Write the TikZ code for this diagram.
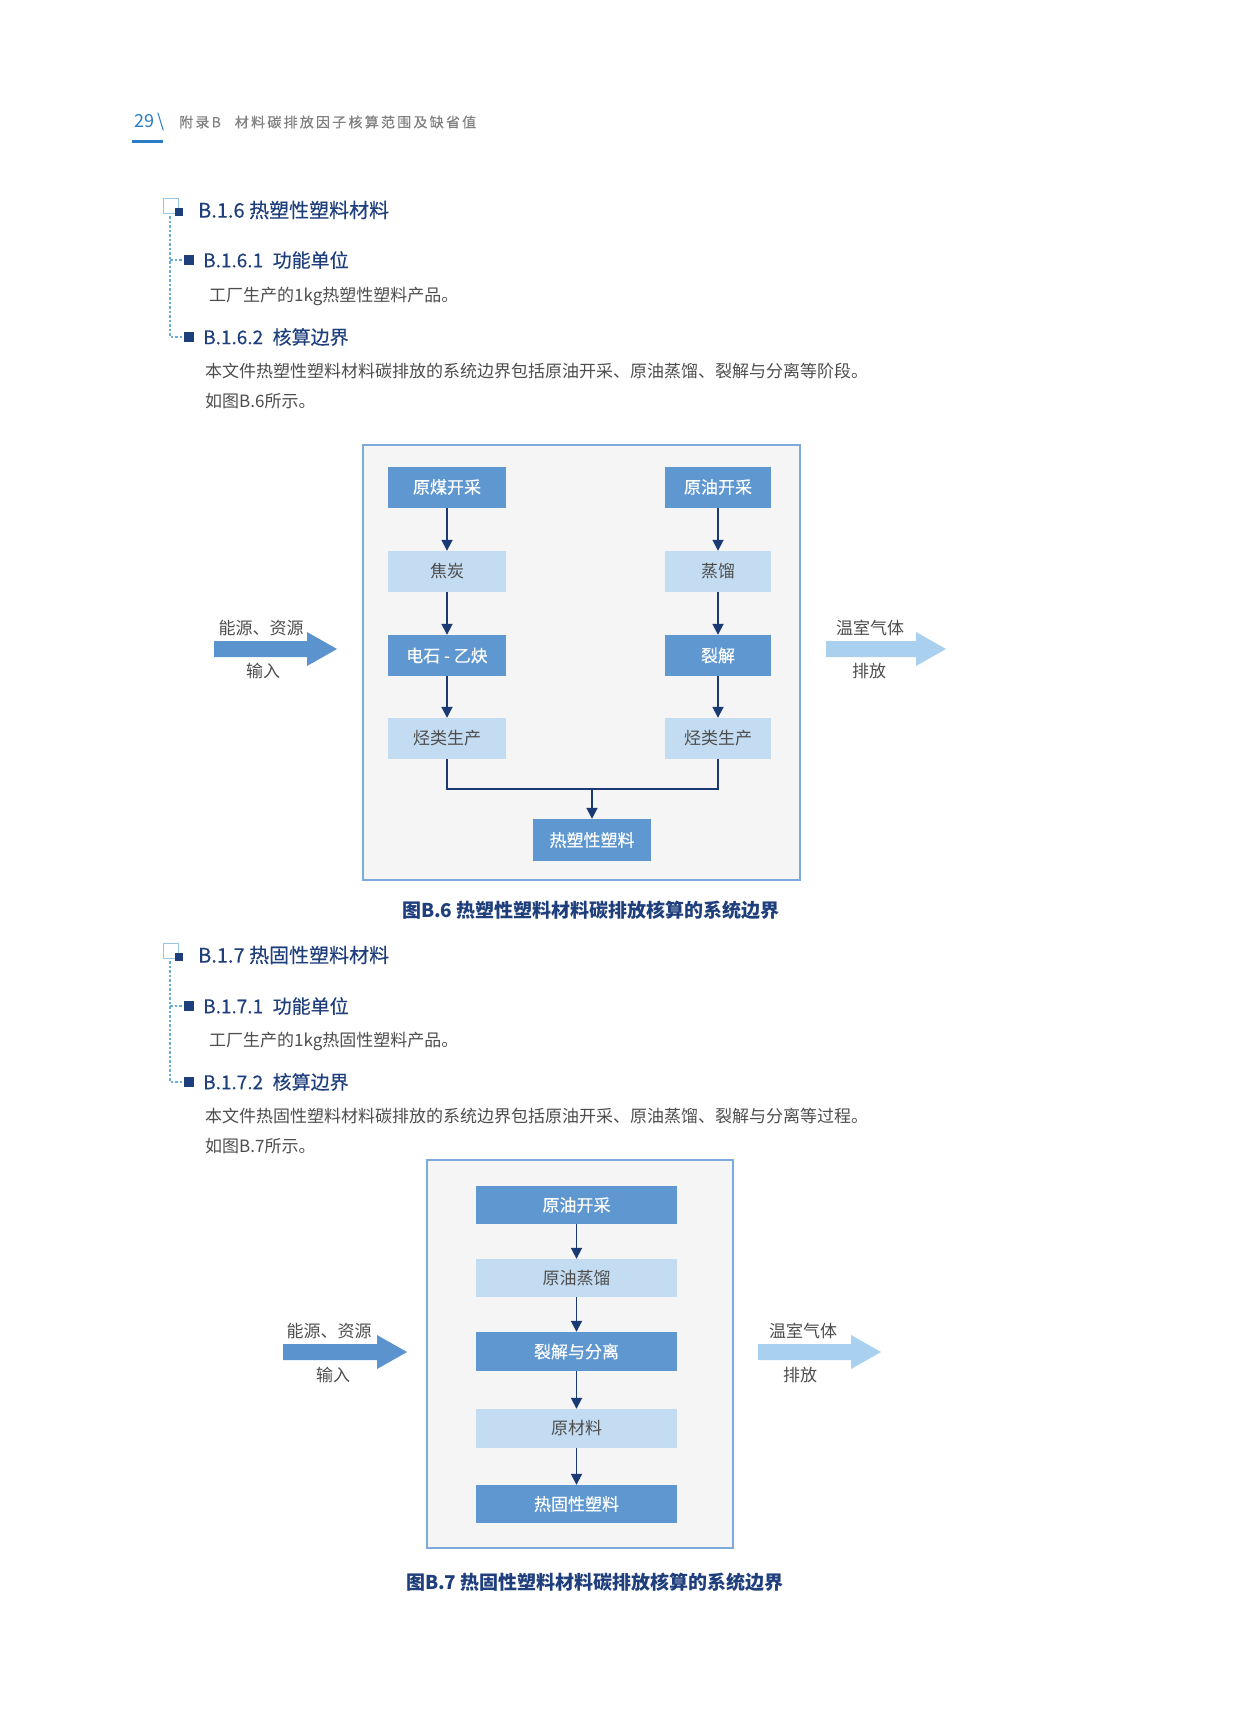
\documentclass[tikz,border=0pt]{standalone}
\usepackage{fontspec}
\setmainfont{Noto Sans CJK SC}
\usetikzlibrary{arrows.meta}
\definecolor{boxdark}{HTML}{5F97D1}
\definecolor{boxlight}{HTML}{C4DCF2}
\definecolor{frameblue}{HTML}{7EAADB}
\definecolor{framefill}{HTML}{F5F5F6}
\definecolor{linkblue}{HTML}{1B3A73}
\definecolor{inblue}{HTML}{5B93CF}
\definecolor{outblue}{HTML}{A9D0EF}
\definecolor{headblue}{HTML}{1F3F7C}
\definecolor{pageblue}{HTML}{2A7CC6}
\definecolor{dotblue}{HTML}{6AAED6}
\definecolor{textgray}{HTML}{4D4D4D}
\definecolor{headgray}{HTML}{808080}

\begin{document}
\begin{tikzpicture}[x=1pt,y=-1pt]
  \tikzstyle{darkbox}=[rectangle,fill=boxdark,text=white,inner sep=0pt,font=\fontsize{17}{20}\selectfont\addfontfeature{FakeBold=0.4}]
  \tikzstyle{lightbox}=[rectangle,fill=boxlight,text=textgray,inner sep=0pt,font=\fontsize{17}{20}\selectfont]
  \tikzstyle{link}=[draw=linkblue,line width=1.8pt,-{Triangle[width=11pt,length=11pt]}]
  \tikzstyle{frame}=[draw=frameblue,fill=framefill,line width=1.6pt]
  \tikzstyle{label}=[inner sep=0pt,text=textgray,font=\fontsize{17}{20}\selectfont]
  \tikzstyle{body}=[anchor=west,inner sep=0pt,text=textgray,font=\fontsize{17}{20}\selectfont]
  \tikzstyle{title}=[anchor=west,inner sep=0pt,text=headblue,font=\fontsize{20}{24}\selectfont\addfontfeature{FakeBold=0.3}]
  \tikzstyle{subtitle}=[anchor=west,inner sep=0pt,text=headblue,font=\fontsize{19}{23}\selectfont\addfontfeature{FakeBold=0.3}]
  \tikzstyle{caption}=[inner sep=0pt,text=headblue,font=\fontsize{19}{23}\selectfont\bfseries]
  \tikzstyle{dots}=[draw=dotblue,line width=1.3pt,dash pattern=on 2.5pt off 2pt]
  \useasboundingbox (0,0) rectangle (1258,1719);

  % page header
  \node[anchor=west,inner sep=0pt,text=pageblue,font=\fontsize{18}{22}\selectfont] (page) at (134,122) {29\,\textbackslash};
  \fill[pageblue] (132,139.5) rectangle (163,142.5);
  \node[anchor=west,inner sep=0pt,text=headgray,font=\fontsize{14}{18}\selectfont\addfontfeature{LetterSpace=16,FakeBold=0.6}] (head) at (179,122) {附录B\quad 材料碳排放因子核算范围及缺省值};

  % B.1.6
  \draw[draw=dotblue!70,line width=0.8pt] (163,198) rectangle (178,213);
  \fill[headblue] (175,208) rectangle (183,216);
  \draw[dots] (170,216) -- (170,337) -- (184,337);
  \draw[dots] (170,260) -- (184,260);
  \fill[headblue] (184,255) rectangle (194,265);
  \fill[headblue] (184,332) rectangle (194,342);
  \node[title] (T_6) at (198,210) {B.1.6 热塑性塑料材料};
  \node[subtitle] (T_61) at (203,260) {B.1.6.1\enspace 功能单位};
  \node[body] (X_61) at (209,296) {工厂生产的1kg热塑性塑料产品。};
  \node[subtitle] (T_62) at (203,337) {B.1.6.2\enspace 核算边界};
  \node[body] (X_62) at (205,371) {本文件热塑性塑料材料碳排放的系统边界包括原油开采、原油蒸馏、裂解与分离等阶段。};
  \node[body] (X_63) at (205,401) {如图B.6所示。};

  % figure B.6
  \draw[frame] (363,445) rectangle (800,880);
  \node[darkbox,minimum width=118pt,minimum height=41pt] (L_1) at (447,487) {原煤开采};
  \node[lightbox,minimum width=118pt,minimum height=41pt] (L_2) at (447,571.5) {焦炭};
  \node[darkbox,minimum width=118pt,minimum height=41pt] (L_3) at (447,655.5) {电石 - 乙炔};
  \node[lightbox,minimum width=118pt,minimum height=41pt] (L_4) at (447,738.5) {烃类生产};
  \node[darkbox,minimum width=106pt,minimum height=41pt] (R_1) at (718,487) {原油开采};
  \node[lightbox,minimum width=106pt,minimum height=41pt] (R_2) at (718,571.5) {蒸馏};
  \node[darkbox,minimum width=106pt,minimum height=41pt] (R_3) at (718,655.5) {裂解};
  \node[lightbox,minimum width=106pt,minimum height=41pt] (R_4) at (718,738.5) {烃类生产};
  \node[darkbox,minimum width=118pt,minimum height=42pt] (P_6) at (592,840) {热塑性塑料};
  \coordinate (M_6) at (592,789);

  \draw[link] (L_1) -- (L_2);
  \draw[link] (L_2) -- (L_3);
  \draw[link] (L_3) -- (L_4);
  \draw[link] (R_1) -- (R_2);
  \draw[link] (R_2) -- (R_3);
  \draw[link] (R_3) -- (R_4);
  \draw[draw=linkblue,line width=1.8pt] (L_4.south) |- (M_6) -| (R_4.south);
  \draw[link] (M_6) -- (P_6);

  \fill[inblue] (214,641) -- (307,641) -- (307,632) -- (337,649) -- (307,666) -- (307,657) -- (214,657) -- cycle;
  \fill[outblue] (826,641) -- (916,641) -- (916,632) -- (946,649) -- (916,666) -- (916,657) -- (826,657) -- cycle;
  \node[label] (in_6a) at (261,628) {能源、资源};
  \node[label] (in_6b) at (263,671) {输入};
  \node[label] (out_6a) at (870,628) {温室气体};
  \node[label] (out_6b) at (869,671) {排放};
  \node[caption] (C_6) at (591,910) {图B.6 热塑性塑料材料碳排放核算的系统边界};

  % B.1.7
  \draw[draw=dotblue!70,line width=0.8pt] (163,943) rectangle (178,958);
  \fill[headblue] (175,953) rectangle (183,961);
  \draw[dots] (170,961) -- (170,1082) -- (184,1082);
  \draw[dots] (170,1006) -- (184,1006);
  \fill[headblue] (184,1001) rectangle (194,1011);
  \fill[headblue] (184,1077) rectangle (194,1087);
  \node[title] (T_7) at (198,955) {B.1.7 热固性塑料材料};
  \node[subtitle] (T_71) at (203,1006) {B.1.7.1\enspace 功能单位};
  \node[body] (X_71) at (209,1041) {工厂生产的1kg热固性塑料产品。};
  \node[subtitle] (T_72) at (203,1082) {B.1.7.2\enspace 核算边界};
  \node[body] (X_72) at (205,1116) {本文件热固性塑料材料碳排放的系统边界包括原油开采、原油蒸馏、裂解与分离等过程。};
  \node[body] (X_73) at (205,1146) {如图B.7所示。};

  % figure B.7
  \draw[frame] (427,1160) rectangle (733,1548);
  \node[darkbox,minimum width=201pt,minimum height=38pt] (S_1) at (576.5,1205) {原油开采};
  \node[lightbox,minimum width=201pt,minimum height=38pt] (S_2) at (576.5,1278) {原油蒸馏};
  \node[darkbox,minimum width=201pt,minimum height=39pt] (S_3) at (576.5,1351.5) {裂解与分离};
  \node[lightbox,minimum width=201pt,minimum height=39pt] (S_4) at (576.5,1428.5) {原材料};
  \node[darkbox,minimum width=201pt,minimum height=38pt] (S_5) at (576.5,1504) {热固性塑料};

  \draw[link] (S_1) -- (S_2);
  \draw[link] (S_2) -- (S_3);
  \draw[link] (S_3) -- (S_4);
  \draw[link] (S_4) -- (S_5);

  \fill[inblue] (283,1344) -- (377,1344) -- (377,1335) -- (407,1352) -- (377,1369) -- (377,1360) -- (283,1360) -- cycle;
  \fill[outblue] (758,1344) -- (851,1344) -- (851,1335) -- (881,1352) -- (851,1369) -- (851,1360) -- (758,1360) -- cycle;
  \node[label] (in_7a) at (329,1331) {能源、资源};
  \node[label] (in_7b) at (333,1375) {输入};
  \node[label] (out_7a) at (803,1331) {温室气体};
  \node[label] (out_7b) at (800,1375) {排放};
  \node[caption] (C_7) at (595,1582) {图B.7 热固性塑料材料碳排放核算的系统边界};
\end{tikzpicture}
\end{document}
